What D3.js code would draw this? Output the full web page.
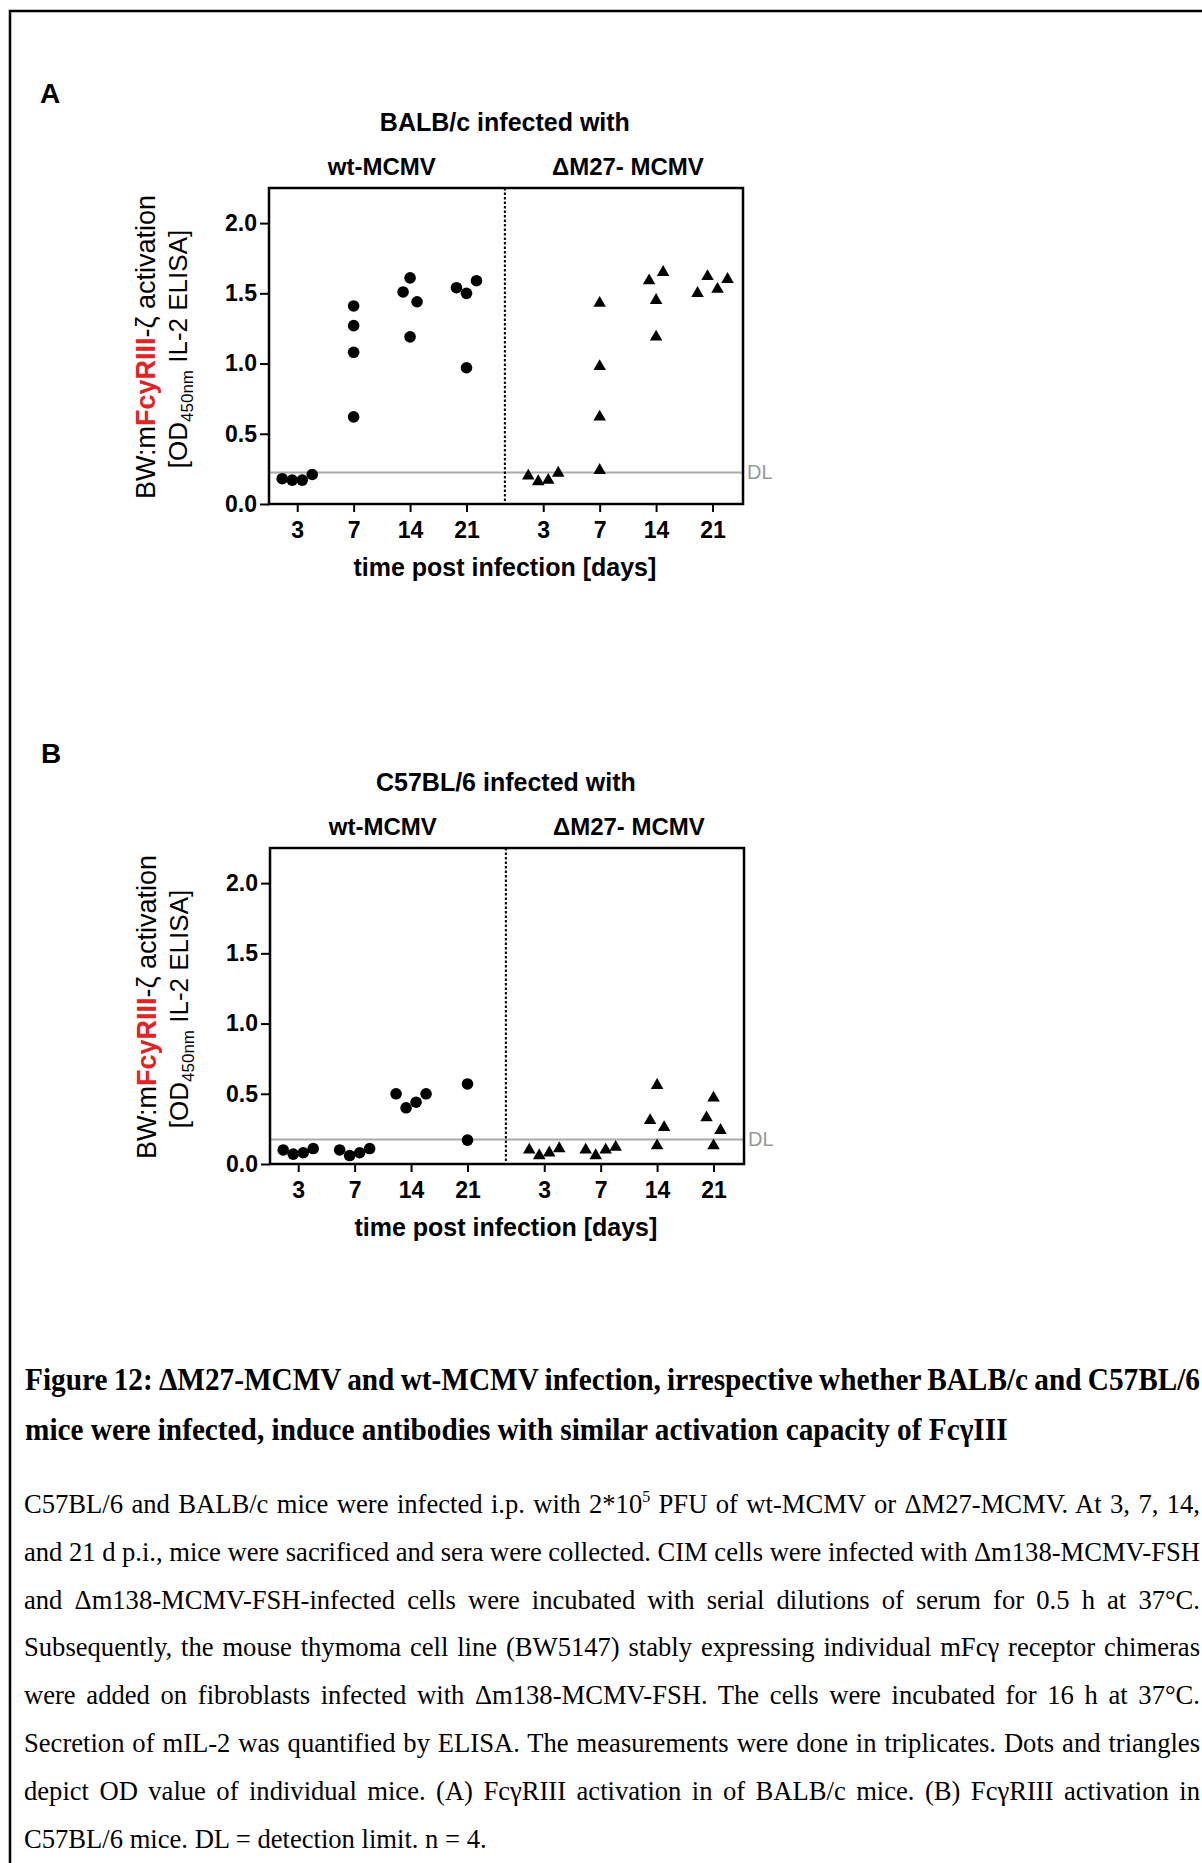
<!DOCTYPE html>
<html>
<head>
<meta charset="utf-8">
<script src="https://cdn.jsdelivr.net/npm/d3@7"></script>
<style>
  body { margin: 0; background: #fff; }
  svg { display: block; }
</style>
</head>
<body>
<svg id="fig" width="1202" height="1863"></svg>
<script>
// values (OD450nm), one inner list per day
var days = ['3', '7', '14', '21'];
var yTicks = [0, 0.5, 1.0, 1.5, 2.0];

var balbWt = [[0.18, 0.17, 0.17, 0.21], [1.41, 1.27, 1.08, 0.62], [1.51, 1.61, 1.44, 1.19], [1.54, 1.50, 1.59, 0.97]];
var balbDelta = [[0.20, 0.16, 0.17, 0.22], [1.43, 0.98, 0.62, 0.24], [1.59, 1.65, 1.45, 1.19], [1.50, 1.62, 1.53, 1.60]];
var balbDL = 0.225;

var c57Wt = [[0.10, 0.07, 0.08, 0.11], [0.10, 0.06, 0.08, 0.11], [0.50, 0.40, 0.44, 0.50], [0.57, 0.17]];
var c57Delta = [[0.10, 0.06, 0.08, 0.11], [0.10, 0.06, 0.10, 0.12], [0.56, 0.31, 0.26, 0.13], [0.47, 0.33, 0.24, 0.13]];
var c57DL = 0.175;

var titleLines = [
    'Figure 12: \u0394M27-MCMV and wt-MCMV infection, irrespective whether BALB/c and C57BL/6',
    'mice were infected, induce antibodies with similar activation capacity of Fc\u03b3III'
];
var bodyLines = [
    ['C57BL/6 and BALB/c mice were infected i.p. with 2*10', '5', ' PFU of wt-MCMV or \u0394M27-MCMV. At 3, 7, 14,'],
    ['and 21 d p.i., mice were sacrificed and sera were collected. CIM cells were infected with \u0394m138-MCMV-FSH'],
    ['and \u0394m138-MCMV-FSH-infected cells were incubated with serial dilutions of serum for 0.5 h at 37\u00b0C.'],
    ['Subsequently, the mouse thymoma cell line (BW5147) stably expressing individual mFc\u03b3 receptor chimeras'],
    ['were added on fibroblasts infected with \u0394m138-MCMV-FSH. The cells were incubated for 16 h at 37\u00b0C.'],
    ['Secretion of mIL-2 was quantified by ELISA. The measurements were done in triplicates. Dots and triangles'],
    ['depict OD value of individual mice. (A) Fc\u03b3RIII activation in of BALB/c mice. (B) Fc\u03b3RIII activation in'],
    ['C57BL/6 mice. DL = detection limit. n = 4.']
];

var sans = 'Liberation Sans, Arial, Helvetica, sans-serif';
var serif = 'Liberation Serif, Times New Roman, serif';

var svg = d3.select('#fig');

svg.append('rect')
    .attr('x', 10).attr('y', 11)
    .attr('width', 1260).attr('height', 1900)
    .attr('fill', 'none').attr('stroke', '#000').attr('stroke-width', 2.5);

// points whose heights nearly collide are put side by side, in data order
var spread = function (vals, y) {
    var idx = vals.map(function (v, i) { return i; }).sort(function (a, b) { return vals[b] - vals[a]; });
    var clusters = [], cur = [idx[0]];
    for (var k = 1; k < idx.length; k++) {
        if (Math.abs(y(vals[idx[k]]) - y(vals[idx[k - 1]])) < 14) cur.push(idx[k]);
        else { clusters.push(cur); cur = [idx[k]]; }
    }
    clusters.push(cur);
    var off = vals.map(function () { return 0; });
    clusters.forEach(function (c) {
        c.sort(function (a, b) { return a - b; });
        var step = c.length == 2 ? 14 : 10;
        c.forEach(function (p, j) { off[p] = (j - (c.length - 1) / 2) * step; });
    });
    return off;
};

var panel = function (gx, gy, letter, title, wt, delta, dl) {
    var g = svg.append('g').attr('transform', 'translate(' + gx + ',' + gy + ')');
    var left = 269, right = 743, top = 188, bottom = 504;
    var gap = 0.36;
    var slot = function (grp, i) { return grp * (4 + gap) + i; };
    var slots = d3.range(8).map(function (k) { return slot(Math.floor(k / 4), k % 4); });

    var x = d3.scaleLinear().domain([-0.5, 7.9]).range([left, right]);
    var y = d3.scaleLinear().domain([0, 2.25]).range([bottom, top]);
    var divX = x(3 + (1 + gap) / 2);

    g.append('text').text(letter)
        .attr('x', 40).attr('y', 103)
        .attr('font-family', sans).attr('font-weight', 'bold').attr('font-size', 28);

    g.append('text').text(title)
        .attr('x', divX).attr('y', 131).attr('text-anchor', 'middle')
        .attr('font-family', sans).attr('font-weight', 'bold').attr('font-size', 25);
    g.append('text').text('wt-MCMV')
        .attr('x', x(slot(0, 1.5))).attr('y', 175).attr('text-anchor', 'middle')
        .attr('font-family', sans).attr('font-weight', 'bold').attr('font-size', 24);
    g.append('text').text('\u0394M27- MCMV')
        .attr('x', x(slot(1, 1.5))).attr('y', 175).attr('text-anchor', 'middle')
        .attr('font-family', sans).attr('font-weight', 'bold').attr('font-size', 24);

    // detection limit + group divider
    g.append('line')
        .attr('x1', left).attr('x2', right).attr('y1', y(dl)).attr('y2', y(dl))
        .attr('stroke', '#aaa').attr('stroke-width', 2);
    g.append('text').text('DL')
        .attr('x', right + 4).attr('y', y(dl) + 7)
        .attr('fill', '#999').attr('font-family', sans).attr('font-size', 20);
    g.append('line')
        .attr('x1', divX).attr('x2', divX).attr('y1', top).attr('y2', bottom)
        .attr('stroke', '#000').attr('stroke-width', 2).attr('stroke-dasharray', '2.5,2');

    // axes
    var ya = g.append('g').attr('transform', 'translate(' + left + ',0)')
        .call(d3.axisLeft(y).tickValues(yTicks).tickFormat(d3.format('.1f')).tickSize(9).tickPadding(3));
    var xa = g.append('g').attr('transform', 'translate(0,' + bottom + ')')
        .call(d3.axisBottom(x).tickValues(slots).tickFormat(function (d, i) { return days[i % 4]; }).tickSize(8).tickPadding(10));
    [ya, xa].forEach(function (a) {
        a.select('.domain').remove();
        a.selectAll('.tick line').attr('stroke', '#000').attr('stroke-width', 2);
        a.selectAll('.tick text').attr('fill', '#000')
            .attr('font-family', sans).attr('font-weight', 'bold').attr('font-size', 23);
    });

    // markers
    wt.forEach(function (vals, k) {
        var off = spread(vals, y);
        g.append('g').selectAll('circle').data(vals).join('circle')
            .attr('cx', function (d, i) { return x(slot(0, k)) + off[i]; })
            .attr('cy', function (d) { return y(d); })
            .attr('r', 5.8).attr('fill', '#000');
    });
    var tri = d3.symbol(d3.symbolTriangle, 68);
    delta.forEach(function (vals, k) {
        var off = spread(vals, y);
        g.append('g').selectAll('path').data(vals).join('path')
            .attr('d', tri)
            .attr('transform', function (d, i) { return 'translate(' + (x(slot(1, k)) + off[i]) + ',' + y(d) + ')'; })
            .attr('fill', '#000');
    });

    g.append('rect')
        .attr('x', left).attr('y', top).attr('width', right - left).attr('height', bottom - top)
        .attr('fill', 'none').attr('stroke', '#000').attr('stroke-width', 2.5);

    // y axis title, two rotated lines
    var t1 = g.append('text')
        .attr('transform', 'translate(155,347) rotate(-90)').attr('text-anchor', 'middle')
        .attr('font-family', sans).attr('font-size', 27);
    t1.append('tspan').text('BW:m');
    t1.append('tspan').text('FcyRIII').attr('fill', '#e02424').attr('font-weight', 'bold');
    t1.append('tspan').text('-\u03b6 activation');

    var t2 = g.append('text')
        .attr('transform', 'translate(187,349) rotate(-90)').attr('text-anchor', 'middle')
        .attr('font-family', sans).attr('font-size', 26);
    t2.append('tspan').text('[OD');
    t2.append('tspan').text('450nm').attr('font-size', 17).attr('dy', 6);
    t2.append('tspan').text(' IL-2 ELISA]').attr('dy', -6);

    g.append('text').text('time post infection [days]')
        .attr('x', divX).attr('y', 576).attr('text-anchor', 'middle')
        .attr('font-family', sans).attr('font-weight', 'bold').attr('font-size', 25);
};

panel(0, 0, 'A', 'BALB/c infected with', balbWt, balbDelta, balbDL);
panel(1, 660, 'B', 'C57BL/6 infected with', c57Wt, c57Delta, c57DL);

// caption: justified lines, glyphs squeezed to the width of the unjustified last line
var block = function (lines, x0, y0, dy, size, weight, full, lastW) {
    var nodes = lines.map(function (parts, i) {
        var g = svg.append('g');
        var t = g.append('text').attr('font-family', serif).attr('font-size', size).attr('font-weight', weight);
        parts.forEach(function (p, j) {
            var ts = t.append('tspan').text(p);
            if (parts.length > 1 && j == 1) ts.attr('font-size', size * 0.6).attr('dy', -size * 0.38);
            if (parts.length > 1 && j == 2) ts.attr('dy', size * 0.38);
        });
        return { g: g, t: t, y: y0 + i * dy, spaces: parts.join('').split(' ').length - 1 };
    });
    var last = nodes[nodes.length - 1];
    var sx = lastW / last.t.node().getComputedTextLength();
    nodes.forEach(function (n, i) {
        n.g.attr('transform', 'translate(' + x0 + ',' + n.y + ') scale(' + sx + ',1)');
        if (i < nodes.length - 1) {
            var w = n.t.node().getComputedTextLength();
            n.t.style('word-spacing', ((full / sx - w) / n.spaces) + 'px');
        }
    });
};

block(titleLines.map(function (s) { return [s]; }), 25, 1390, 50, 31, 'bold', 1175, 983);
block(bodyLines, 24, 1513, 47.8, 28, 'normal', 1176, 463);
</script>
</body>
</html>
